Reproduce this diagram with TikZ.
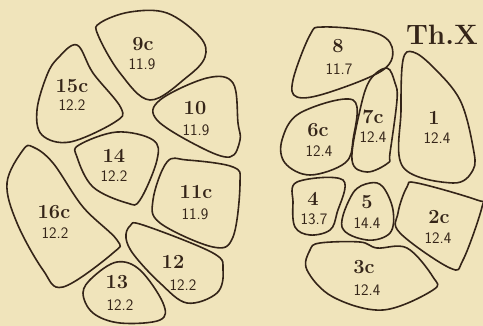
\documentclass[tikz,border=0pt]{standalone}
\usepackage{tikz}
\usetikzlibrary{positioning}
\definecolor{paper}{RGB}{240,228,187}
\definecolor{ink}{RGB}{52,36,24}

\begin{document}
\begin{tikzpicture}[x=1pt,y=-1pt,
  blob/.style={draw=ink,line width=1.6pt,line join=round},
  lbl/.style={text=ink,inner sep=0pt,font=\fontsize{20}{20}\selectfont\bfseries},
  val/.style={text=ink,inner sep=0pt,font=\fontsize{16}{16}\selectfont\sffamily},
  title/.style={text=ink,inner sep=0pt,font=\fontsize{28}{28}\selectfont\bfseries}]
  \fill[paper] (0,0) rectangle (483,326);
  \useasboundingbox (0,0) rectangle (483,326);
  % left group
  \draw[blob] plot[smooth cycle,tension=0.6] coordinates {(100,23) (130,12) (167,13) (200,37) (205,57) (187,77) (150,100) (120,73) (98,35)};
  \node[lbl] (n9c) at (143,44) {9c};
  \node[val] (v9c) at (142,64) {11.9};
  \draw[blob] plot[smooth cycle,tension=0.6] coordinates {(77,45) (58,58) (47,75) (37,110) (42,135) (70,142) (115,122) (121,108) (93,73)};
  \node[lbl] (n15c) at (72,86) {15c};
  \node[val] (v15c) at (72,105) {12.2};
  \draw[blob] plot[smooth cycle,tension=0.6] coordinates {(160,100) (207,78) (233,83) (238,123) (240,140) (230,157) (200,147) (157,120)};
  \node[lbl] (n10) at (195,108) {10};
  \node[val] (v10) at (196,130) {11.9};
  \draw[blob] plot[smooth cycle,tension=0.6] coordinates {(117,132) (153,140) (157,160) (140,200) (127,203) (93,187) (77,157) (79,145)};
  \node[lbl] (n14) at (114,156) {14};
  \node[val] (v14) at (114,176) {12.2};
  \draw[blob] plot[smooth cycle,tension=0.6] coordinates {(167,162) (187,160) (233,167) (240,183) (233,237) (213,247) (160,223) (153,200)};
  \node[lbl] (n11c) at (196,192) {11c};
  \node[val] (v11c) at (195,214) {11.9};
  \draw[blob] plot[smooth cycle,tension=0.6] coordinates {(23,150) (33,147) (53,163) (83,207) (117,240) (113,253) (63,287) (43,270) (17,223) (7,183)};
  \node[lbl] (n16c) at (54,212) {16c};
  \node[val] (v16c) at (55,233) {12.2};
  \draw[blob] plot[smooth cycle,tension=0.6] coordinates {(130,226) (143,225) (213,253) (223,270) (217,293) (187,303) (160,283) (134,255) (126,238)};
  \node[lbl] (n12) at (173,262) {12};
  \node[val] (v12) at (183,285) {12.2};
  \draw[blob] plot[smooth cycle,tension=0.6] coordinates {(117,262) (140,270) (163,303) (160,320) (120,323) (93,313) (83,293) (93,277)};
  \node[lbl] (n13) at (117,282) {13};
  \node[val] (v13) at (120,305) {12.2};
  % right group
  \draw[blob] plot[smooth cycle,tension=0.6] coordinates {(323,27) (373,32) (392,47) (383,70) (327,93) (297,97) (293,80) (310,35)};
  \node[lbl] (n8) at (338,46) {8};
  \node[val] (v8) at (339,69) {11.7};
  \draw[blob] plot[smooth cycle,tension=0.6] coordinates {(387,68) (395,83) (397,100) (390,153) (388,163) (367,172) (352,160) (360,110) (370,80)};
  \node[lbl] (n7c) at (373,117) {7c};
  \node[val] (v7c) at (373,137) {12.4};
  \draw[blob] plot[smooth cycle,tension=0.6] coordinates {(300,113) (353,100) (353,140) (345,163) (310,175) (285,163) (282,140)};
  \node[lbl] (n6c) at (318,130) {6c};
  \node[val] (v6c) at (319,151) {12.4};
  \draw[blob] plot[smooth cycle,tension=0.6] coordinates {(413,52) (433,67) (460,100) (473,147) (473,170) (453,183) (403,167) (401,110) (403,60)};
  \node[lbl] (n1) at (434,118) {1};
  \node[val] (v1) at (437,138) {12.4};
  \draw[blob] plot[smooth cycle,tension=0.6] coordinates {(297,182) (343,180) (337,213) (330,230) (310,235) (295,227) (293,203)};
  \node[lbl] (n4) at (313,199) {4};
  \node[val] (v4) at (314,219) {13.7};
  \draw[blob] plot[smooth cycle,tension=0.6] coordinates {(370,183) (383,187) (393,210) (390,233) (367,240) (342,227) (353,193)};
  \node[lbl] (n5) at (367,202) {5};
  \node[val] (v5) at (367,223) {14.4};
  \draw[blob] plot[smooth cycle,tension=0.6] coordinates {(407,187) (417,183) (477,200) (482,207) (463,260) (450,268) (400,233) (398,213)};
  \node[lbl] (n2c) at (439,217) {2c};
  \node[val] (v2c) at (438,238) {12.4};
  \draw[blob] plot[smooth cycle,tension=0.6] coordinates {(320,243) (360,242) (377,248) (407,248) (433,277) (433,290) (383,310) (333,297) (307,270) (310,250)};
  \node[lbl] (n3c) at (364,267) {3c};
  \node[val] (v3c) at (367,290) {12.4};
  \node[title] (thx) at (442,35) {Th.X};
\end{tikzpicture}
\end{document}
